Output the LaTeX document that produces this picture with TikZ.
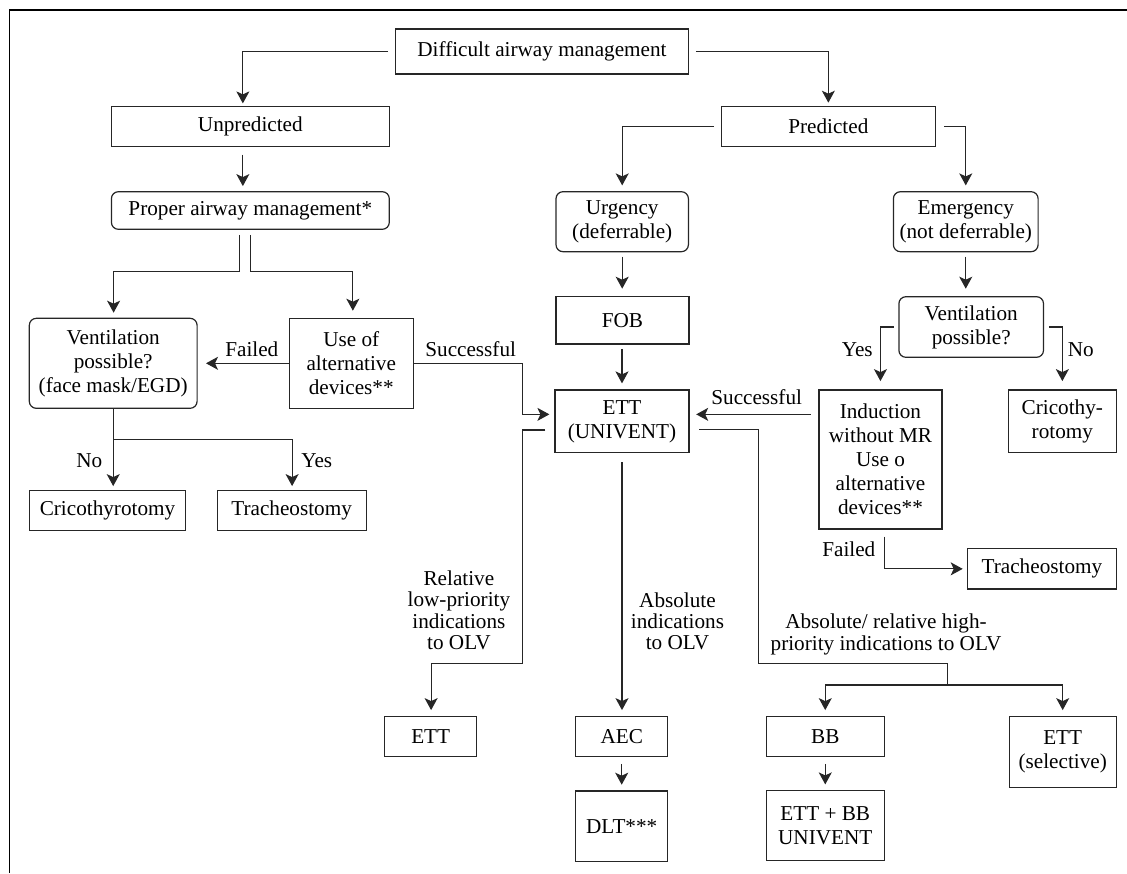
\documentclass[tikz,border=0pt]{standalone}
\usepackage{fontspec}
\setmainfont{Liberation Serif}
\usetikzlibrary{arrows.meta,calc}

\begin{document}
\begin{tikzpicture}[x=1pt,y=-1pt,
  font=\fontsize{21.2}{24}\selectfont,
  box/.style 2 args={draw=black!85, line width=1.2pt, inner sep=0pt, align=center,
    minimum width=#1, minimum height=#2},
  rbox/.style 2 args={box={#1}{#2}, rounded corners=7pt},
  lbl/.style={inner sep=0pt, align=center, font=\fontsize{21.2}{21.4}\selectfont},
  ln/.style={draw=black!85, line width=1.2pt},
  arr/.style={ln, -{Stealth[length=12pt,width=13pt,inset=3pt]}}]

\useasboundingbox (0,0) rectangle (1127,873);

% frame
\draw[line width=1.4pt] (1127,10) -- (9.6,10) -- (9.6,873);

% boxes
\node[box={292.7}{45}]   (title)  at (542,51.5)     {Difficult airway management};
\node[box={277.9}{40}]   (unpred) at (250.35,126.7) {Unpredicted};
\node[box={214.1}{40}]   (pred)   at (828.35,126.7) {Predicted};
\node[rbox={277.9}{37.6}] (proper) at (250.35,210.5) {Proper airway management*};
\node[rbox={132.4}{60}]  (urg)    at (622.2,221.7)  {Urgency\\(deferrable)};
\node[rbox={144.7}{60}]  (emg)    at (965.75,221.7) {Emergency\\(not deferrable)};
\node[box={133}{47.3}]   (fob)    at (622.5,320.35) {FOB};
\node[rbox={144.6}{60.6}] (ventR) at (971.2,327)    {Ventilation\\possible?};
\node[rbox={167.8}{90}]  (ventL)  at (113.2,363.3)  {Ventilation\\possible?\\(face mask/EGD)};
\node[box={123.9}{90}]   (alt)    at (351.25,363.3) {Use of\\alternative\\devices**};
\node[box={134}{62.7}]   (ett)    at (622,421.35)   {ETT\\(UNIVENT)};
\node[box={122.9}{139}]  (induct) at (880.45,459.5) {Induction\\without MR\\Use o\\alternative\\devices**};
\node[box={107.7}{62.7}] (cricR)  at (1062.35,421.35) {Cricothy-\\rotomy};
\node[box={148.6}{40.3}] (tracR)  at (1041.9,568.85) {Tracheostomy};
\node[box={156.4}{40}]   (cricL)  at (107.5,510.7)  {Cricothyrotomy};
\node[box={149}{40}]     (tracL)  at (291.6,510.7)  {Tracheostomy};
\node[box={92.2}{40}]    (ettL)   at (430.7,736.7)  {ETT};
\node[box={92.2}{40}]    (aec)    at (621.7,736.7)  {AEC};
\node[box={92.2}{70.7}]  (dlt)    at (621.7,826.35) {DLT***};
\node[box={118.3}{40}]   (bb)     at (825.25,736.7) {BB};
\node[box={118.3}{70}]   (ettbb)  at (825.25,825.7) {ETT + BB\\UNIVENT};
\node[box={107}{70.6}]   (ettsel) at (1062.7,752)   {ETT\\(selective)};

% labels
\node[lbl, anchor=base] (lFailL) at (251.8,356)   {Failed};
\node[lbl, anchor=base] (lSuccL) at (470.7,356)   {Successful};
\node[lbl, anchor=base] (lNoL)   at (89.3,467.7)  {No};
\node[lbl, anchor=base] (lYesL)  at (316.8,467.7) {Yes};
\node[lbl, anchor=base] (lYesR)  at (857.3,356)   {Yes};
\node[lbl, anchor=base] (lNoR)   at (1080.8,356)  {No};
\node[lbl, anchor=base] (lSuccR) at (756.7,404)   {Successful};
\node[lbl, anchor=base] (lFailR) at (848.8,556.7) {Failed};
\node[lbl, anchor=north] (lRel)  at (458.9,570.5) {Relative\\low-priority\\indications\\to OLV};
\node[lbl, anchor=north] (lAbs)  at (677.5,592.2) {Absolute\\indications\\to OLV};
\node[lbl, anchor=north] (lHigh) at (886,613.8)   {Absolute/ relative high-\\priority indications to OLV};

% connectors
\draw[arr] ($(title.west)+(-7,0)$) -| ($(unpred.north)+(-7.5,-2.7)$);
\draw[arr] ($(title.east)+(7,0)$) -| ($(pred.north)+(0,-3.4)$);
\draw[arr] ($(unpred.south)+(-7.5,7.3)$) -- ($(proper.north)+(-7.5,-5)$);
\draw[arr] ($(pred.west)+(-6.5,0)$) -| ($(urg.north)+(0,-5.7)$);
\draw[arr] ($(pred.east)+(8,0)$) -| ($(emg.north)+(0,-5.7)$);
\draw[arr] ($(urg.south)+(0,4.3)$) -- ($(urg.south |- fob.north)+(0,-7.4)$);
\draw[arr] ($(emg.south)+(0,4.3)$) -- ($(emg.south |- ventR.north)+(0,-7.4)$);
\draw[arr] ($(ett.north |- fob.south)+(0,4.3)$) -- ($(ett.north)+(0,-6)$);

\draw[arr] ($(proper.south)+(-11,5)$) |- ($(ventL.north)+(0.4,-46.6)$) -- ($(ventL.north)+(0.4,-5)$);
\draw[arr] ($(proper.south)+(0,5)$) |- ($(alt.north)+(1.6,-46.6)$) -- ($(alt.north)+(1.6,-7)$);
\draw[arr] (alt.west) -- ($(ventL.east)+(8.3,0)$);
\draw[arr] (alt.east) -| ($(ett.west)+(-31.8,-7)$) -- ($(ett.west)+(-5,-7)$);
\draw[arr] (ventL.south) -- ($(ventL.south |- cricL.north)+(0,-4)$);
\draw[arr] ($(ventL.south)+(0,30.7)$) -| ($(tracL.north)+(0.5,-4)$);

\draw[arr] ($(ventR.west)+(-4.4,0)$) -| ($(induct.north)+(0,-8.3)$);
\draw[arr] ($(ventR.east)+(4.7,0)$) -| ($(cricR.north)+(0,-8.3)$);
\draw[arr] ($(induct.west |- ett.west)+(-7.6,-7)$) -- ($(ett.east)+(6.6,-7)$);
\draw[arr] ($(induct.south)+(4,7)$) |- ($(tracR.west)+(-4.3,0)$);

\draw[arr] ($(ett.west)+(-9,8.7)$) -| ($(ett.west)+(-31.8,242)$) -| ($(ettL.north)+(0.4,-6)$);
\draw[arr] ($(ett.south)+(0,9)$) -- ($(ett.south |- aec.north)+(0,-6)$);
\coordinate (split) at (947.7,685);
\draw[ln] ($(ett.east)+(9.5,8)$) -| ($(ett.east)+(68.8,242)$) -| (split);
\draw[arr] (split) -| ($(bb.north)+(0,-6)$);
\draw[arr] (split) -| ($(ettsel.north)+(0,-6)$);
\draw[arr] ($(aec.south)+(0,6.6)$) -- ($(dlt.north)+(0,-5.7)$);
\draw[arr] ($(bb.south)+(0,6.6)$) -- ($(ettbb.north)+(0,-5.7)$);
\end{tikzpicture}
\end{document}
